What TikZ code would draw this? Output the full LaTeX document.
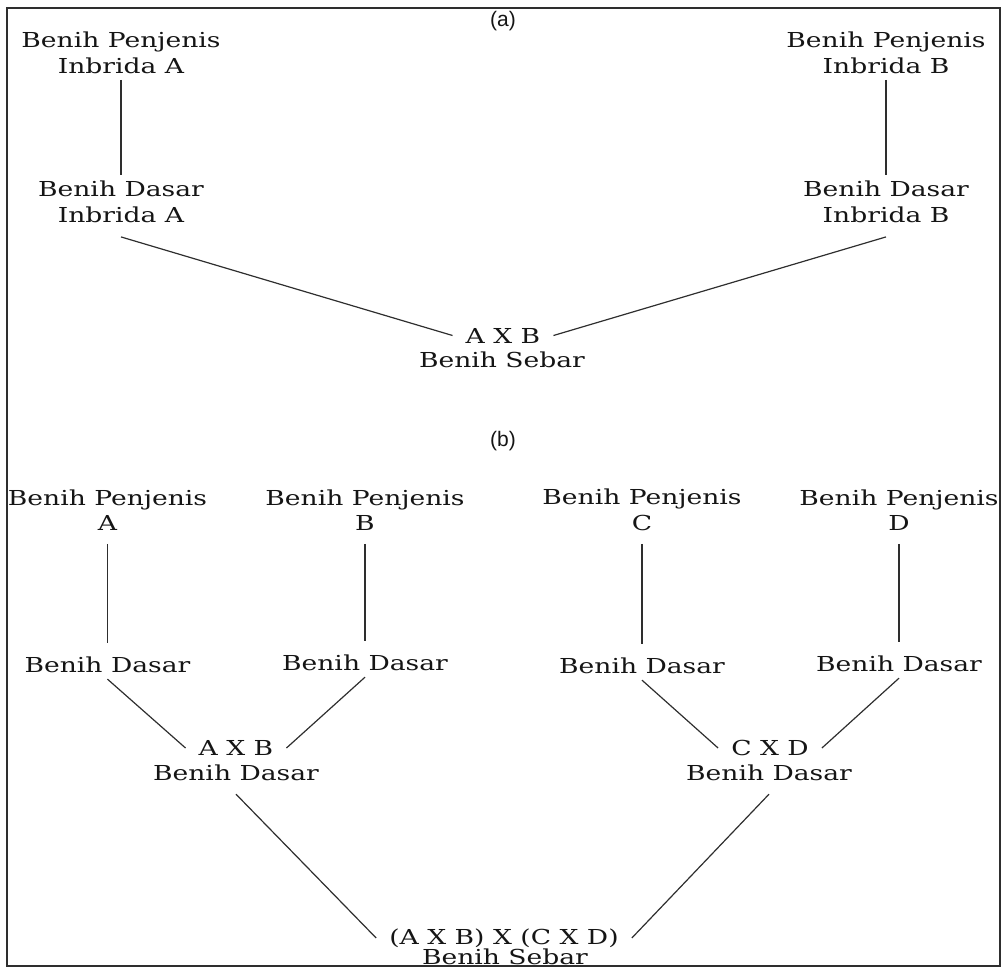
\documentclass[tikz,border=0pt]{standalone}
\usepackage{fontspec}
\setmainfont[FakeStretch=1.29]{DejaVu Serif}
\newfontfamily\panelfont{Liberation Sans}
\definecolor{ink}{HTML}{151515}
\definecolor{linegray}{HTML}{2E2E2E}

\begin{document}
\begin{tikzpicture}[x=1pt,y=-1pt,
    seed/.style={align=center,inner xsep=0pt,inner ysep=6pt,text=ink,
      font=\fontsize{20.6}{25.5}\selectfont},
    cross/.style={seed,inner xsep=13pt},
    panel/.style={text=ink,inner sep=0pt,anchor=base,font=\panelfont\fontsize{21}{25}\selectfont},
    link/.style={draw=linegray,line width=1.2pt}]
\useasboundingbox (0,0) rectangle (1006,969);
\draw[linegray,line width=1.5pt] (7,8) rectangle (1000,966);

% (a) single cross
\node[panel] (la) at (503,26) {(a)};
\node[seed] (pA) at (121,53) {Benih Penjenis\\Inbrida A};
\node[seed] (dA) at (121,202) {Benih Dasar\\Inbrida A};
\node[seed] (pB) at (886,53) {Benih Penjenis\\Inbrida B};
\node[seed] (dB) at (886,202) {Benih Dasar\\Inbrida B};
\node[cross] (AB) at (503,335.5) {A X B};
\node[seed] (ABs) at (502,360) {Benih Sebar};
\draw[link] (pA) -- (dA);
\draw[link] (pB) -- (dB);
\draw[link] ([yshift=-8pt]dA.south) -- (AB.west);
\draw[link] ([yshift=-8pt]dB.south) -- (AB.east);

% (b) double cross
\node[panel] (lb) at (503,446) {(b)};
\node[seed] (pa) at (107.5,510) {Benih Penjenis\\A};
\node[seed] (pb) at (365,510) {Benih Penjenis\\B};
\node[seed] (pc) at (642,510) {Benih Penjenis\\C};
\node[seed] (pd) at (899,510) {Benih Penjenis\\D};
\node[seed] (da) at (107.5,665) {Benih Dasar};
\node[seed] (db) at (365,663) {Benih Dasar};
\node[seed] (dc) at (642,666) {Benih Dasar};
\node[seed] (dd) at (899,664) {Benih Dasar};
\node[cross] (ab) at (236,748) {A X B};
\node[seed] (abs) at (236,773) {Benih Dasar};
\node[cross] (cd) at (770,748) {C X D};
\node[seed] (cds) at (769,773) {Benih Dasar};
\node[cross] (abcd) at (504,938) {(A X B) X (C X D)};
\node[seed] (abcds) at (505,957) {Benih Sebar};
\draw[link,shorten <=7pt,shorten >=8pt] (pa) -- (da);
\draw[link,shorten <=7pt,shorten >=8pt] (pb) -- (db);
\draw[link,shorten <=7pt,shorten >=8pt] (pc) -- (dc);
\draw[link,shorten <=7pt,shorten >=8pt] (pd) -- (dd);
\draw[link] (da.south) -- (ab.west);
\draw[link] (db.south) -- (ab.east);
\draw[link] (dc.south) -- (cd.west);
\draw[link] (dd.south) -- (cd.east);
\draw[link] ([yshift=-7pt]abs.south) -- (abcd.west);
\draw[link] ([yshift=-7pt]cds.south) -- (abcd.east);
\end{tikzpicture}
\end{document}
